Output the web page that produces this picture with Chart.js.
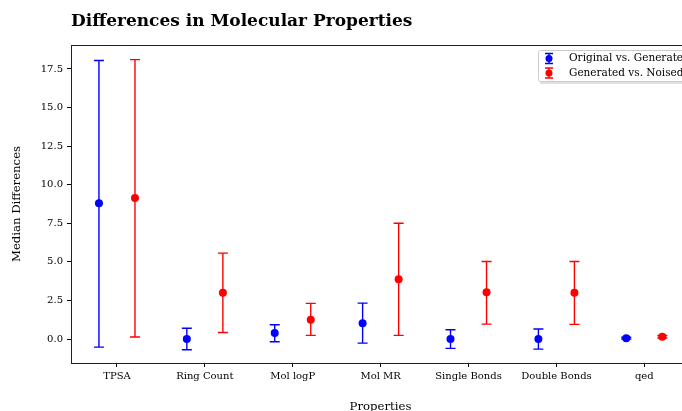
<!DOCTYPE html>
<html>
<head>
<meta charset="utf-8">
<script src="https://cdn.jsdelivr.net/npm/chart.js@4.4.1/dist/chart.umd.min.js"></script>
<style>
  html, body { margin: 0; padding: 0; background: #fff; overflow: hidden; }
  #wrap { width: 700px; height: 411px; }
</style>
</head>
<body>
<div id="wrap"><canvas id="diffChart" width="700" height="411"></canvas></div>
<script>
const properties = ["TPSA", "Ring Count", "Mol logP", "Mol MR", "Single Bonds", "Double Bonds", "qed"];
const origGenMedian = [8.8, 0.0, 0.39, 1.02, 0.0, 0.0, 0.06];
const origGenLow = [-0.52, -0.69, -0.17, -0.26, -0.6, -0.65, 0.0];
const origGenHigh = [18.05, 0.7, 0.93, 2.33, 0.6, 0.65, 0.12];
const genNoisedMedian = [9.14, 3.0, 1.25, 3.87, 3.03, 3.0, 0.15];
const genNoisedLow = [0.13, 0.43, 0.24, 0.24, 0.97, 0.95, 0.07];
const genNoisedHigh = [18.1, 5.57, 2.31, 7.5, 5.03, 5.03, 0.23];
const yTicks = [0, 2.5, 5, 7.5, 10, 12.5, 15, 17.5];

const FONT = "'DejaVu Serif', serif";
const shift = 0.205;

const series = [
  { label: "Original vs. Generated", color: "#0000ff", mid: origGenMedian, lo: origGenLow, hi: origGenHigh, dx: -shift },
  { label: "Generated vs. Noised", color: "#ff0000", mid: genNoisedMedian, lo: genNoisedLow, hi: genNoisedHigh, dx: shift }
];

const errorBars = {
  id: "errorBars",
  beforeDatasetsDraw(chart) {
    const { ctx, scales: { x, y } } = chart;
    ctx.save();
    ctx.lineWidth = 1.4;
    series.forEach(s => {
      ctx.strokeStyle = s.color;
      s.mid.forEach((v, i) => {
        const px = x.getPixelForValue(i + s.dx);
        const top = y.getPixelForValue(s.hi[i]);
        const bot = y.getPixelForValue(s.lo[i]);
        ctx.beginPath();
        ctx.moveTo(px, top); ctx.lineTo(px, bot);
        ctx.moveTo(px - 5, top); ctx.lineTo(px + 5, top);
        ctx.moveTo(px - 5, bot); ctx.lineTo(px + 5, bot);
        ctx.stroke();
      });
    });
    ctx.restore();
  }
};

const frame = {
  id: "frame",
  afterDraw(chart) {
    const { ctx, chartArea: a } = chart;
    ctx.save();
    ctx.strokeStyle = "#222";
    ctx.lineWidth = 1;
    ctx.strokeRect(Math.round(a.left) + 0.5, Math.round(a.top) + 0.5, Math.round(a.right - a.left), Math.round(a.bottom - a.top));

    // title
    ctx.fillStyle = "#000";
    ctx.font = "bold 17px " + FONT;
    ctx.textAlign = "left";
    ctx.textBaseline = "alphabetic";
    ctx.fillText("Differences in Molecular Properties", a.left, 26);

    // axis titles
    ctx.font = "11.7px " + FONT;
    ctx.textAlign = "center";
    ctx.fillText("Properties", (a.left + a.right) / 2, 410);
    ctx.save();
    ctx.translate(20, (a.top + a.bottom) / 2);
    ctx.rotate(-Math.PI / 2);
    ctx.fillText("Median Differences", 0, 0);
    ctx.restore();

    // legend
    const lx = 538, ly = 50;
    ctx.fillStyle = "rgba(0,0,0,0.12)";
    ctx.fillRect(lx + 2, ly + 2, 170, 32);
    ctx.fillStyle = "#fff";
    ctx.strokeStyle = "#cccccc";
    ctx.beginPath();
    ctx.roundRect(lx + 0.5, ly + 0.5, 170, 31, 2);
    ctx.fill();
    ctx.stroke();
    ctx.font = "10.5px " + FONT;
    ctx.textAlign = "left";
    ctx.textBaseline = "middle";
    series.forEach((s, k) => {
      const cy = ly + 8.5 + k * 14.5;
      const cx = lx + 11;
      ctx.strokeStyle = s.color;
      ctx.fillStyle = s.color;
      ctx.lineWidth = 1.4;
      ctx.beginPath();
      ctx.moveTo(cx, cy - 5); ctx.lineTo(cx, cy + 5);
      ctx.moveTo(cx - 4, cy - 5); ctx.lineTo(cx + 4, cy - 5);
      ctx.moveTo(cx - 4, cy + 5); ctx.lineTo(cx + 4, cy + 5);
      ctx.stroke();
      ctx.beginPath();
      ctx.arc(cx, cy, 3.5, 0, Math.PI * 2);
      ctx.fill();
      ctx.fillStyle = "#000";
      ctx.fillText(s.label, lx + 31, cy);
    });
    ctx.restore();
  }
};

new Chart(document.getElementById("diffChart"), {
  type: "scatter",
  data: {
    datasets: series.map(s => ({
      label: s.label,
      data: s.mid.map((v, i) => ({ x: i + s.dx, y: v })),
      backgroundColor: s.color,
      borderColor: s.color,
      pointRadius: 4,
      pointHoverRadius: 4,
      borderWidth: 0
    }))
  },
  options: {
    responsive: false,
    animation: false,
    events: [],
    layout: { padding: { top: 45, right: 10, left: 0, bottom: 0 } },
    plugins: { legend: { display: false }, tooltip: { enabled: false }, title: { display: false } },
    scales: {
      x: {
        type: "linear",
        min: -0.523,
        max: 6.52,
        afterBuildTicks: (sc) => { sc.ticks = properties.map((p, i) => ({ value: i })); },
        afterFit: (sc) => { sc.height = 48; },
        ticks: {
          callback: (v) => properties[v],
          color: "#000",
          font: { family: FONT, size: 10 },
          padding: 3,
          maxRotation: 0
        },
        grid: { drawOnChartArea: false, tickLength: 4, color: "#000" },
        border: { display: false }
      },
      y: {
        min: -1.55,
        max: 19.05,
        afterBuildTicks: (sc) => { sc.ticks = yTicks.map(v => ({ value: v })); },
        afterFit: (sc) => { sc.width = 71; },
        ticks: {
          callback: (v) => Number(v).toFixed(1),
          color: "#000",
          font: { family: FONT, size: 10 },
          padding: 4
        },
        grid: { drawOnChartArea: false, tickLength: 4, color: "#000" },
        border: { display: false }
      }
    }
  },
  plugins: [errorBars, frame]
});
</script>
</body>
</html>
